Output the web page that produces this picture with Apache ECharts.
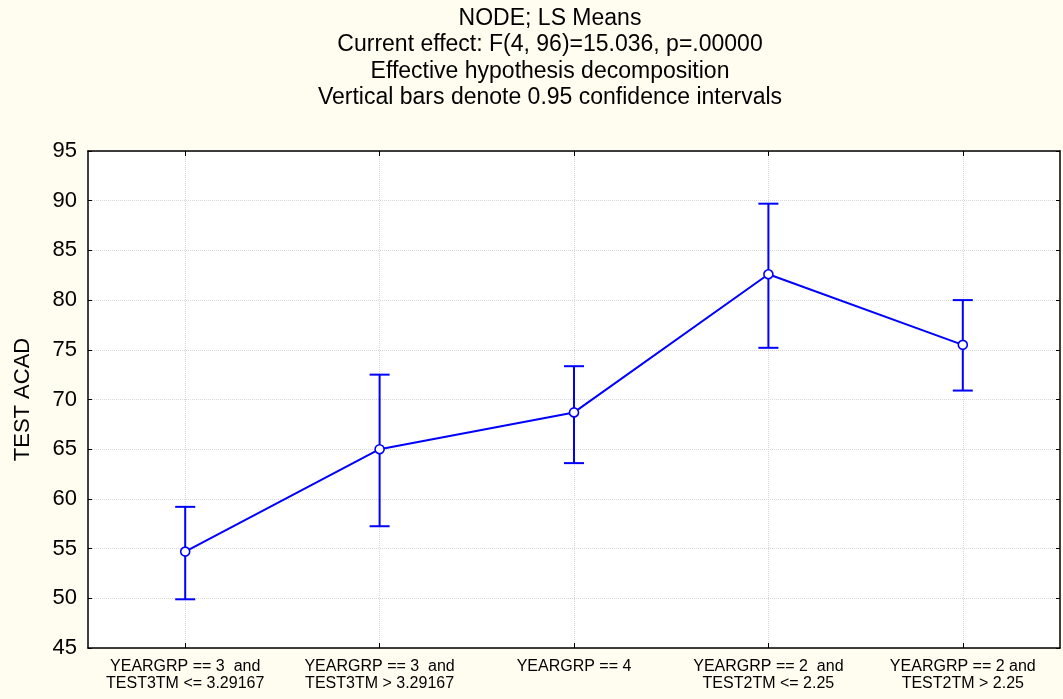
<!DOCTYPE html>
<html>
<head>
<meta charset="utf-8">
<script src="https://cdn.jsdelivr.net/npm/echarts@6/dist/echarts.min.js"></script>
<style>
html,body{margin:0;padding:0;background:#fffcf0;}
#c{width:1063px;height:699px;}
</style>
</head>
<body>
<div id="c"></div>
<script>
// ---- data ----
var categories = [
  'YEARGRP == 3  and\nTEST3TM <= 3.29167',
  'YEARGRP == 3  and\nTEST3TM > 3.29167',
  'YEARGRP == 4',
  'YEARGRP == 2  and\nTEST2TM <= 2.25',
  'YEARGRP == 2 and\nTEST2TM > 2.25'
];
var means = [54.7, 65.0, 68.7, 82.6, 75.5];
var lower = [49.9, 57.25, 63.6, 75.2, 70.9];
var upper = [59.2, 72.5, 73.35, 89.7, 80.0];
var titleLines = [
  'NODE; LS Means',
  'Current effect: F(4, 96)=15.036, p=.00000',
  'Effective hypothesis decomposition',
  'Vertical bars denote 0.95 confidence intervals'
];
var yName = 'TEST ACAD';
var yMin = 45, yMax = 95, yStep = 5;

var FONT = '"Liberation Sans", Arial, sans-serif';
var BLUE = '#0000ff';

var errData = categories.map(function (c, i) { return [i, lower[i], upper[i]]; });

var chart = echarts.init(document.getElementById('c'), null, {renderer: 'canvas'});
chart.setOption({
  backgroundColor: '#fffcf0',
  animation: false,
  title: {
    text: titleLines.join('\n'),
    left: 550,
    top: 5,
    padding: 0,
    textAlign: 'center',
    textStyle: {fontFamily: FONT, fontSize: 23, fontWeight: 'normal', color: '#000', lineHeight: 26.5}
  },
  grid: {left: 88, top: 151, right: 3, bottom: 51, show: true, backgroundColor: '#ffffff', borderWidth: 0, containLabel: false},
  xAxis: [{
    type: 'category',
    data: categories,
    position: 'bottom',
    axisLine: {show: true, lineStyle: {color: '#000', width: 1.5}},
    axisTick: {show: true, inside: true, alignWithLabel: true, length: 5, lineStyle: {color: '#000', width: 1}},
    axisLabel: {fontFamily: FONT, fontSize: 16, color: '#000', margin: 10, lineHeight: 17, interval: 0},
    splitLine: {show: true, alignWithLabel: true, lineStyle: {color: '#d8d8d8', type: 'dotted', width: 1}}
  }, {
    type: 'category',
    data: categories,
    position: 'top',
    axisLine: {show: true, lineStyle: {color: '#000', width: 1.5}},
    axisTick: {show: true, inside: true, alignWithLabel: true, length: 5, lineStyle: {color: '#000', width: 1}},
    axisLabel: {show: false},
    splitLine: {show: false}
  }],
  yAxis: [{
    type: 'value',
    min: yMin, max: yMax, interval: yStep,
    position: 'left',
    name: yName,
    nameLocation: 'middle',
    nameRotate: 90,
    nameGap: 54,
    nameTextStyle: {fontFamily: FONT, fontSize: 22, color: '#000'},
    axisLine: {show: true, lineStyle: {color: '#000', width: 1.5}},
    axisTick: {show: true, inside: true, length: 4, lineStyle: {color: '#000', width: 1}},
    axisLabel: {fontFamily: FONT, fontSize: 22, color: '#000', margin: 11},
    splitLine: {show: true, lineStyle: {color: '#d8d8d8', type: 'dotted', width: 1}}
  }, {
    type: 'value',
    min: yMin, max: yMax, interval: yStep,
    position: 'right',
    axisLine: {show: true, lineStyle: {color: '#000', width: 1.5}},
    axisTick: {show: true, inside: true, length: 4, lineStyle: {color: '#000', width: 1}},
    axisLabel: {show: false},
    splitLine: {show: false}
  }],
  series: [{
    type: 'custom',
    name: 'CI',
    xAxisIndex: 0, yAxisIndex: 0,
    data: errData,
    encode: {x: 0, y: [1, 2]},
    z: 2,
    renderItem: function (params, api) {
      var x = api.value(0);
      var lo = api.coord([x, api.value(1)]);
      var hi = api.coord([x, api.value(2)]);
      var hw = 10;
      var st = {stroke: BLUE, lineWidth: 2};
      return {
        type: 'group',
        children: [
          {type: 'line', shape: {x1: lo[0], y1: lo[1], x2: hi[0], y2: hi[1]}, style: st},
          {type: 'line', shape: {x1: hi[0] - hw, y1: hi[1], x2: hi[0] + hw, y2: hi[1]}, style: st},
          {type: 'line', shape: {x1: lo[0] - hw, y1: lo[1], x2: lo[0] + hw, y2: lo[1]}, style: st}
        ]
      };
    }
  }, {
    type: 'line',
    name: 'Mean',
    xAxisIndex: 0, yAxisIndex: 0,
    data: means,
    z: 3,
    symbol: 'circle',
    symbolSize: 9,
    lineStyle: {color: BLUE, width: 2},
    itemStyle: {color: '#ffffff', borderColor: BLUE, borderWidth: 1.6}
  }]
});
</script>
</body>
</html>
